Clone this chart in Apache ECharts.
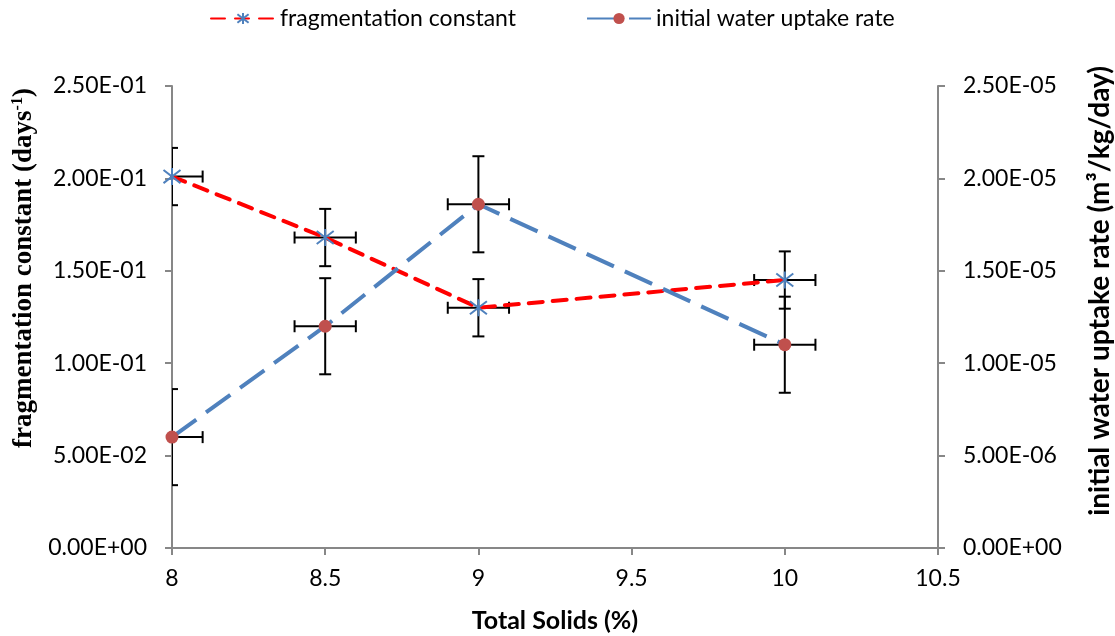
<!DOCTYPE html>
<html>
<head>
<meta charset="utf-8">
<script src="https://cdn.jsdelivr.net/npm/echarts@6/dist/echarts.min.js"></script>
<style>html,body{margin:0;padding:0;background:#fff;}#c{width:1115px;height:636px;}</style>
</head>
<body>
<div id="c"></div>
<script>
var totalSolids = [8, 8.5, 9, 10];
var fragConstant = [0.201, 0.168, 0.130, 0.145];
var fragErrY = [0.0155, 0.0155, 0.0155, 0.0155];
var waterUptake = [6.0e-6, 1.2e-5, 1.86e-5, 1.1e-5];
var waterErrY = [2.6e-6, 2.6e-6, 2.6e-6, 2.6e-6];
var errX = [0.1, 0.1, 0.1, 0.1];

function fmtE(v) {
  var s = Number(v).toExponential(2);
  var parts = s.split('e');
  var exp = parseInt(parts[1], 10);
  var sign = exp < 0 ? '-' : '+';
  var a = Math.abs(exp);
  return parts[0] + 'E' + sign + (a < 10 ? '0' + a : '' + a);
}

function pairs(ys) { return totalSolids.map(function (x, i) { return [x, ys[i]]; }); }
function errData(ys, ey) { return totalSolids.map(function (x, i) { return [x, ys[i], ey[i], errX[i]]; }); }

function renderErr(params, api) {
  var x = api.value(0), y = api.value(1), ey = api.value(2), ex = api.value(3);
  var top = api.coord([x, y + ey]);
  var bot = api.coord([x, y - ey]);
  var lft = api.coord([x - ex, y]);
  var rgt = api.coord([x + ex, y]);
  var cap = 6;
  var st = { stroke: '#000', lineWidth: 2 };
  var lines = [
    [top[0], top[1], bot[0], bot[1]],
    [top[0] - cap, top[1], top[0] + cap, top[1]],
    [bot[0] - cap, bot[1], bot[0] + cap, bot[1]],
    [lft[0], lft[1], rgt[0], rgt[1]],
    [lft[0], lft[1] - cap, lft[0], lft[1] + cap],
    [rgt[0], rgt[1] - cap, rgt[0], rgt[1] + cap]
  ];
  return {
    type: 'group',
    children: lines.map(function (l) {
      return { type: 'line', shape: { x1: l[0], y1: l[1], x2: l[2], y2: l[3] }, style: st };
    })
  };
}

var tickFont = { fontFamily: 'Lato', fontSize: 23, color: '#000' };
var axisLine = { show: true, lineStyle: { color: '#878787', width: 2 } };
var axisTick = { show: true, length: 7, lineStyle: { color: '#878787', width: 2 } };

var chart = echarts.init(document.getElementById('c'));
chart.setOption({
  animation: false,
  legend: {
    top: 2,
    left: 205,
    itemWidth: 64,
    itemHeight: 14,
    itemGap: 70,
    textStyle: { fontFamily: 'Lato', fontSize: 23, color: '#000' },
    data: ['fragmentation constant', 'initial water uptake rate']
  },
  graphic: [
    {
      type: 'text',
      x: 24, y: 268,
      rotation: Math.PI / 2,
      style: {
        text: '{a|fragmentation constant (days}{b|-1}{a|)}',
        align: 'center',
        verticalAlign: 'middle',
        rich: {
          a: { fontFamily: 'Liberation Serif', fontWeight: 'bold', fontSize: 27, fill: '#000' },
          b: { fontFamily: 'Liberation Serif', fontWeight: 'bold', fontSize: 16, fill: '#000', verticalAlign: 'top', padding: [0, 0, 12, 0] }
        }
      }
    },
    {
      type: 'text',
      x: 1100, y: 291,
      rotation: Math.PI / 2,
      style: {
        text: 'initial water uptake rate (m\u00B3/kg/day)',
        align: 'center',
        verticalAlign: 'middle',
        font: 'bold 28px Lato',
        fill: '#000'
      }
    }
  ],
  grid: { left: 172, right: 177, top: 86, bottom: 88, containLabel: false, outerBoundsMode: 'none' },
  xAxis: {
    type: 'value',
    min: 8, max: 10.5, interval: 0.5,
    name: 'Total Solids (%)',
    nameLocation: 'middle',
    nameGap: 60,
    nameTextStyle: { fontFamily: 'Lato', fontWeight: 'bold', fontSize: 25, color: '#000' },
    axisLine: axisLine,
    axisTick: axisTick,
    axisLabel: Object.assign({ margin: 19 }, tickFont),
    splitLine: { show: false }
  },
  yAxis: [
    {
      type: 'value',
      min: 0, max: 0.25, interval: 0.05,
      position: 'left',
      axisLine: axisLine,
      axisTick: axisTick,
      axisLabel: Object.assign({ margin: 25, formatter: fmtE }, tickFont),
      splitLine: { show: false }
    },
    {
      type: 'value',
      min: 0, max: 2.5e-5, interval: 5e-6,
      position: 'right',
      axisLine: axisLine,
      axisTick: axisTick,
      axisLabel: Object.assign({ margin: 25, formatter: fmtE }, tickFont),
      splitLine: { show: false }
    }
  ],
  series: [
    {
      type: 'custom',
      name: 'fragErr',
      xAxisIndex: 0, yAxisIndex: 0,
      renderItem: renderErr,
      data: errData(fragConstant, fragErrY),
      clip: true,
      z: 1,
      silent: true,
      encode: { x: 0, y: 1 }
    },
    {
      type: 'custom',
      name: 'waterErr',
      xAxisIndex: 0, yAxisIndex: 1,
      renderItem: renderErr,
      data: errData(waterUptake, waterErrY),
      clip: true,
      z: 1,
      silent: true,
      encode: { x: 0, y: 1 }
    },
    {
      type: 'line',
      name: 'fragmentation constant',
      yAxisIndex: 0,
      data: pairs(fragConstant),
      symbol: 'path://M0,0L10,10M10,0L0,10M5,-1.5L5,11.5',
      symbolSize: 17,
      itemStyle: { color: '#4F81BD', borderColor: '#4F81BD', borderWidth: 2 },
      lineStyle: { color: '#FF0000', width: 4, type: [14, 10], cap: 'round' },
      z: 3
    },
    {
      type: 'line',
      name: 'initial water uptake rate',
      yAxisIndex: 1,
      data: pairs(waterUptake),
      symbol: 'circle',
      symbolSize: 13,
      itemStyle: { color: '#C0504D', borderWidth: 0 },
      lineStyle: { color: '#4F81BD', width: 4, type: [30, 12], cap: 'butt' },
      z: 3
    }
  ]
});
</script>
</body>
</html>
